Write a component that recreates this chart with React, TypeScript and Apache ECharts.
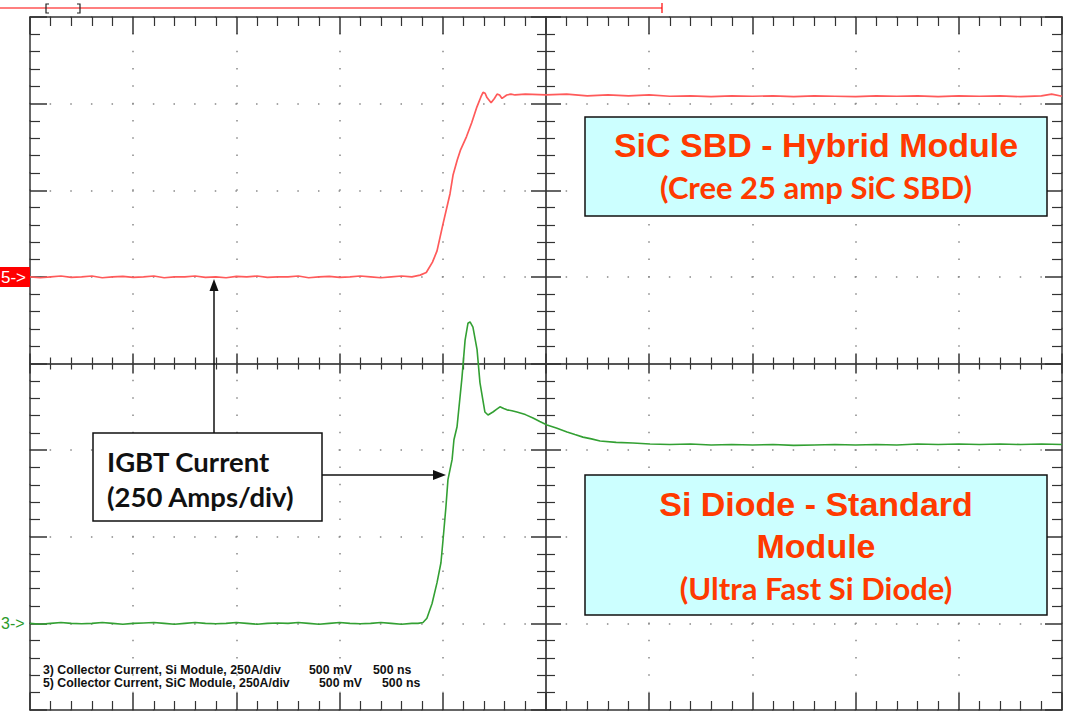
import { useEffect, useRef } from "react";
import * as echarts from "echarts";

// ---- data (time in ns, amplitude in divisions) ----
const timeMin = -2500;
const timeMax = 2500;
const timeStep = 500;
const divMin = -4;
const divMax = 4;

// Channel 5: Collector current, SiC module
const sicTime = [
  -2500, -2450, -2400, -2350, -2300, -2250, -2200, -2150, -2100, -2050, -2000, -1950, -1900, -1850, -1800,
  -1750, -1700, -1650, -1600, -1550, -1500, -1450, -1400, -1350, -1300, -1250, -1200, -1150, -1100, -1050,
  -1000, -950, -900, -850, -800, -750, -700, -650,
  -610, -580, -550, -528, -500, -465, -450, -430, -415, -385, -360, -335, -315, -305, -295, -286, -266, -250, -237, -225, -213,
  -190, -170, -150,
  -100, 0, 100, 200, 300, 400, 500, 600, 700, 800, 900, 1000, 1100, 1200, 1300, 1400, 1500, 1600, 1700,
  1800, 1900, 2000, 2100, 2200, 2300, 2400, 2450, 2500,
];
const sicDiv = [
  1.0, 0.99, 1.0, 1.01, 0.995, 1.0, 1.01, 0.99, 1.0, 1.005, 0.995, 1.0, 1.01, 0.99, 1.0,
  1.0, 1.01, 0.995, 1.0, 0.99, 1.005, 1.0, 1.01, 0.995, 1.0, 1.0, 1.01, 0.99, 1.0, 1.005,
  0.995, 1.0, 1.01, 1.0, 0.99, 1.0, 1.01, 1.0,
  1.02, 1.05, 1.17, 1.3, 1.6, 1.96, 2.18, 2.35, 2.46, 2.62, 2.78, 2.96, 3.08, 3.13, 3.12, 3.07, 3.01, 3.06, 3.11, 3.1, 3.06,
  3.1, 3.11, 3.1,
  3.11, 3.1, 3.11, 3.09, 3.1, 3.09, 3.1, 3.085, 3.09, 3.08, 3.09, 3.085, 3.09, 3.08, 3.09, 3.085, 3.08, 3.09, 3.085,
  3.09, 3.08, 3.09, 3.085, 3.09, 3.08, 3.09, 3.11, 3.085,
];

// Channel 3: Collector current, Si module
const siTime = [
  -2500, -2450, -2400, -2350, -2300, -2250, -2200, -2150, -2100, -2050, -2000, -1950, -1900, -1850, -1800,
  -1750, -1700, -1650, -1600, -1550, -1500, -1450, -1400, -1350, -1300, -1250, -1200, -1150, -1100, -1050,
  -1000, -950, -900, -850, -800, -750, -700, -650,
  -620, -596, -577, -552, -528, -509, -499, -485, -475, -455, -446, -431, -407, -392, -378, -368, -354,
  -334, -320, -296, -281, -257, -240, -223, -205, -189, -165, -141, -100, -63, -30, 5, 50, 102, 140, 179,
  220, 262, 340, 421, 504,
  600, 700, 800, 900, 1000, 1100, 1200, 1300, 1400, 1500, 1600, 1700, 1800, 1900, 2000, 2100, 2200, 2300,
  2400, 2500,
];
const siDiv = [
  -3.0, -3.01, -3.0, -2.99, -3.0, -3.005, -3.0, -2.99, -3.0, -3.01, -3.0, -2.995, -2.99, -3.0, -3.01,
  -3.0, -2.99, -3.0, -3.005, -3.0, -2.99, -3.0, -3.01, -3.0, -2.995, -3.0, -2.99, -3.0, -3.01, -3.0,
  -2.99, -3.0, -3.005, -3.0, -2.99, -3.0, -3.01, -3.0,
  -3.0, -2.99, -2.94, -2.77, -2.53, -2.3, -2.04, -1.66, -1.34, -1.11, -0.88, -0.73, -0.16, 0.27, 0.465, 0.48, 0.42,
  0.16, -0.22, -0.56, -0.595, -0.56, -0.53, -0.5, -0.52, -0.535, -0.545, -0.56, -0.59, -0.63, -0.67, -0.71, -0.745, -0.79, -0.82, -0.85,
  -0.87, -0.895, -0.91, -0.918, -0.93,
  -0.935, -0.93, -0.94, -0.935, -0.94, -0.935, -0.945, -0.94, -0.935, -0.94, -0.935, -0.94, -0.93, -0.935, -0.93, -0.935, -0.93, -0.935,
  -0.93, -0.935,
];

const legendLine1 = ["3) Collector Current, Si Module, 250A/div", "500 mV", "500 ns"];
const legendLine2 = ["5) Collector Current, SiC Module, 250A/div", "500 mV", "500 ns"];
const sicBoxTitle = "SiC SBD - Hybrid Module";
const sicBoxSub = "(Cree 25 amp SiC SBD)";
const siBoxTitle1 = "Si Diode - Standard";
const siBoxTitle2 = "Module";
const siBoxSub = "(Ultra Fast Si Diode)";
const igbtLine1 = "IGBT Current";
const igbtLine2 = "(250 Amps/div)";

// ---- layout ----
const GL = 30;
const GT = 17;
const GW = 1032;
const GH = 693;

const RED = "#ff5a5a";
const GREEN = "#33a033";
const ORANGE = "#ff3a00";
const AXIS = "#333";

function xAxisDef(position: string, opt: any) {
  return {
    type: "value",
    min: timeMin,
    max: timeMax,
    interval: timeStep,
    position,
    offset: opt.offset || 0,
    axisLabel: { show: false },
    axisLine: { show: opt.line !== false, onZero: false, lineStyle: { color: opt.lineColor || AXIS, width: opt.lineWidth || 1.5 } },
    axisTick: { show: true, inside: opt.inside, length: opt.major, lineStyle: { color: AXIS, width: 1.5 } },
    minorTick: { show: true, splitNumber: 5, length: opt.minor, lineStyle: { color: AXIS, width: 1.2 } },
    splitLine: opt.split
      ? { show: true, lineStyle: { color: "#888", width: 1.5, type: [1.5, GH / 40 - 1.5], dashOffset: 0.75 } }
      : { show: false },
    minorSplitLine: { show: false },
  };
}

function yAxisDef(position: string, opt: any) {
  return {
    type: "value",
    min: divMin,
    max: divMax,
    interval: 1,
    position,
    offset: opt.offset || 0,
    axisLabel: { show: false },
    axisLine: { show: opt.line !== false, onZero: false, lineStyle: { color: opt.lineColor || AXIS, width: opt.lineWidth || 1.5 } },
    axisTick: { show: true, inside: opt.inside, length: opt.major, lineStyle: { color: AXIS, width: 1.5 } },
    minorTick: { show: true, splitNumber: 5, length: opt.minor, lineStyle: { color: AXIS, width: 1.2 } },
    splitLine: opt.split
      ? { show: true, lineStyle: { color: "#888", width: 1.5, type: [1.5, GW / 50 - 1.5], dashOffset: 0.75 } }
      : { show: false },
    minorSplitLine: { show: false },
  };
}

function txt(x: number, y: number, text: string, font: string, fill: string, align = "center") {
  return {
    type: "text",
    x,
    y,
    z: 110,
    style: { text, font, fill, align, verticalAlign: "middle", textAlign: align, textVerticalAlign: "middle" },
  };
}

export default function App() {
  const ref = useRef<HTMLDivElement>(null);
  useEffect(() => {
    if (!ref.current) return;
    const chart = echarts.init(ref.current, undefined, { renderer: "svg" });
    const titleFont = 'bold 34px "Liberation Sans", Arial, sans-serif';
    const subFont = 'bold 31px Lato, "Open Sans", sans-serif';
    const igbtFont = 'bold 27.5px Lato, "Open Sans", sans-serif';
    const legFont = 'bold 12.3px "Liberation Sans", Arial, sans-serif';
    const option: any = {
      animation: false,
      backgroundColor: "#ffffff",
      grid: { left: GL, top: GT, width: GW, height: GH },
      xAxis: [
        xAxisDef("bottom", { inside: true, major: 17, minor: 9, split: true }),
        xAxisDef("top", { inside: true, major: 17, minor: 9 }),
        xAxisDef("bottom", { offset: -GH / 2, inside: true, major: 10, minor: 6, lineColor: "#555", lineWidth: 2 }),
        xAxisDef("bottom", { offset: -GH / 2, inside: false, major: 10, minor: 6, line: false }),
      ],
      yAxis: [
        yAxisDef("left", { inside: true, major: 17, minor: 10, split: true }),
        yAxisDef("right", { inside: true, major: 17, minor: 10 }),
        yAxisDef("left", { offset: -GW / 2, inside: true, major: 15, minor: 9, lineColor: "#555", lineWidth: 2 }),
        yAxisDef("left", { offset: -GW / 2, inside: false, major: 15, minor: 9, line: false }),
      ],
      series: [
        {
          name: "5) Collector Current, SiC Module",
          type: "line",
          xAxisIndex: 0,
          yAxisIndex: 0,
          showSymbol: false,
          symbol: "none",
          lineStyle: { color: RED, width: 1.7 },
          data: sicTime.map((t, i) => [t, sicDiv[i]]),
          z: 5,
        },
        {
          name: "3) Collector Current, Si Module",
          type: "line",
          xAxisIndex: 0,
          yAxisIndex: 0,
          showSymbol: false,
          symbol: "none",
          lineStyle: { color: GREEN, width: 1.6 },
          data: siTime.map((t, i) => [t, siDiv[i]]),
          z: 5,
        },
      ],
      graphic: [
        // record indicator at top
        { type: "line", z: 110, shape: { x1: 0, y1: 8, x2: 662, y2: 8 }, style: { stroke: "#ff0000", lineWidth: 1.2 } },
        { type: "line", z: 110, shape: { x1: 662, y1: 3, x2: 662, y2: 13 }, style: { stroke: "#ff0000", lineWidth: 1.2 } },
        { type: "polyline", z: 110, shape: { points: [[49, 4], [46, 4], [46, 13], [49, 13]] }, style: { stroke: "#222", lineWidth: 1.2, fill: null } },
        { type: "polyline", z: 110, shape: { points: [[77, 4], [80, 4], [80, 13], [77, 13]] }, style: { stroke: "#222", lineWidth: 1.2, fill: null } },
        // channel markers
        { type: "rect", z: 110, shape: { x: 0, y: 267, width: 30, height: 20 }, style: { fill: "#ff0000" } },
        txt(1, 277, "5->", '17px "Liberation Sans", Arial, sans-serif', "#ffffff", "left"),
        txt(1, 623, "3->", '16px "Liberation Sans", Arial, sans-serif', "#2a9a2a", "left"),
        // SiC box
        { type: "rect", z: 105, shape: { x: 585, y: 117, width: 462, height: 99 }, style: { fill: "#ccffff", stroke: "#111", lineWidth: 1.5 } },
        txt(816, 145, sicBoxTitle, titleFont, ORANGE),
        txt(816, 187, sicBoxSub, subFont, ORANGE),
        // Si box
        { type: "rect", z: 105, shape: { x: 585, y: 475, width: 462, height: 140 }, style: { fill: "#ccffff", stroke: "#111", lineWidth: 1.5 } },
        txt(816, 504, siBoxTitle1, titleFont, ORANGE),
        txt(816, 546, siBoxTitle2, titleFont, ORANGE),
        txt(816, 588, siBoxSub, subFont, ORANGE),
        // IGBT box
        { type: "rect", z: 105, shape: { x: 93, y: 433, width: 229, height: 88 }, style: { fill: "#ffffff", stroke: "#111", lineWidth: 1.5 } },
        txt(107, 461, igbtLine1, igbtFont, "#111", "left"),
        txt(107, 496, igbtLine2, igbtFont, "#111", "left"),
        // arrows
        { type: "line", z: 110, shape: { x1: 214, y1: 433, x2: 214, y2: 290 }, style: { stroke: "#111", lineWidth: 1.5 } },
        { type: "polygon", z: 110, shape: { points: [[214, 279], [209.5, 291], [218.5, 291]] }, style: { fill: "#111" } },
        { type: "line", z: 110, shape: { x1: 322, y1: 475, x2: 434, y2: 475 }, style: { stroke: "#111", lineWidth: 1.5 } },
        { type: "polygon", z: 110, shape: { points: [[446, 475], [433, 470], [433, 480]] }, style: { fill: "#111" } },
        // channel legend
        txt(43, 670, legendLine1[0], legFont, "#111", "left"),
        txt(309, 670, legendLine1[1], legFont, "#111", "left"),
        txt(373, 670, legendLine1[2], legFont, "#111", "left"),
        txt(43, 683, legendLine2[0], legFont, "#111", "left"),
        txt(319, 683, legendLine2[1], legFont, "#111", "left"),
        txt(382, 683, legendLine2[2], legFont, "#111", "left"),
      ],
    };
    chart.setOption(option);
    return () => chart.dispose();
  }, []);
  return (
    <div
      ref={ref}
      style={{ position: "absolute", left: 0, top: 0, width: 1067, height: 714, background: "#fff" }}
    />
  );
}
